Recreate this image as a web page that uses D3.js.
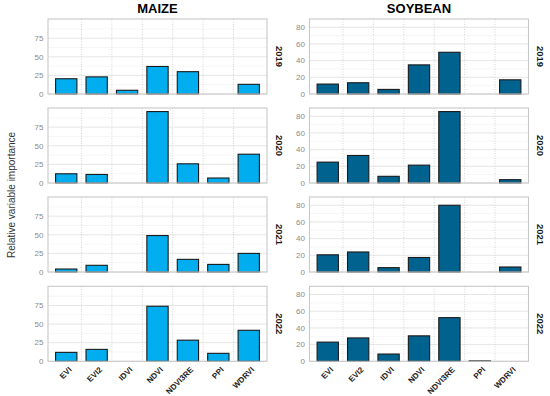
<!DOCTYPE html>
<html><head><meta charset="utf-8">
<script src="https://cdn.jsdelivr.net/npm/d3@7"></script>
<style>body{margin:0;background:#fff}svg{display:block}</style>
</head><body><svg id="c" width="550" height="396"></svg>
<script>
const categories = ["EVI","EVI2","IDVI","NDVI","NDVI3RE","PPI","WDRVI"];
const years = ["2019","2020","2021","2022"];
const crops = ["MAIZE","SOYBEAN"];
const maize2019 = [20.5, 23, 5, 37, 30, 0, 13];
const maize2020 = [12.4, 11.5, 0, 96, 25.8, 6.7, 38.7];
const maize2021 = [4, 9, 0, 49, 17, 10.2, 25];
const maize2022 = [12, 16, 0, 74, 28.4, 10.7, 41.7];
const soy2019 = [11.9, 13.5, 5.5, 34.9, 50, 0, 17];
const soy2020 = [25, 33, 8, 21.4, 85.6, 0, 4];
const soy2021 = [20.6, 24, 5.2, 17.4, 80, 0, 6];
const soy2022 = [23, 28, 8.7, 30.5, 52.3, 0.5, 0];
const maizeTicks = [0, 25, 50, 75];
const soyTicks = [0, 20, 40, 60, 80];
const maizeMinor = [12.5, 37.5, 62.5, 87.5];
const soyMinor = [10, 30, 50, 70];

const series = {MAIZE:[maize2019,maize2020,maize2021,maize2022], SOYBEAN:[soy2019,soy2020,soy2021,soy2022]};
const ticks = {MAIZE:maizeTicks, SOYBEAN:soyTicks};
const minors = {MAIZE:maizeMinor, SOYBEAN:soyMinor};
const fills = {MAIZE:"#00AEEF", SOYBEAN:"#00628F"};

const svg = d3.select("#c");
const panelW = 219, panelH = 75;
const colX = {MAIZE:48, SOYBEAN:309.5};
const rowTop = [19, 108, 197, 286.3];

const x = d3.scaleLinear().domain([0.4, 7.6]).range([0, panelW]);
const barW = x(1.7) - x(1);
const font = "Liberation Sans, Arial, sans-serif";

crops.forEach(crop => {
  const allMax = d3.max(series[crop].flat());
  const y = d3.scaleLinear().domain([0, allMax * 1.05]).range([panelH, 0]);
  const cx = colX[crop];
  svg.append("text").attr("x", cx + panelW/2).attr("y", 12.5)
    .attr("text-anchor","middle").attr("font-family",font)
    .attr("font-weight","bold").attr("font-size", 13).attr("fill","#000").text(crop);
  years.forEach((yr, r) => {
    const g = svg.append("g").attr("transform", `translate(${cx},${rowTop[r]})`);
    g.append("rect").attr("width", panelW).attr("height", panelH).attr("fill","#fff");
    g.selectAll("line.minor").data(minors[crop].filter(v => y(v) > 0)).join("line")
      .attr("x1",0).attr("x2",panelW).attr("y1",d=>y(d)).attr("y2",d=>y(d))
      .attr("stroke","#f0f0f0").attr("stroke-width",0.6);
    g.selectAll("line.major").data(ticks[crop]).join("line")
      .attr("x1",0).attr("x2",panelW).attr("y1",d=>y(d)).attr("y2",d=>y(d))
      .attr("stroke","#e3e3e3").attr("stroke-width",0.9);
    g.selectAll("line.vsep").data(d3.range(1.5, 7, 1)).join("line")
      .attr("x1",d=>x(d)).attr("x2",d=>x(d)).attr("y1",0).attr("y2",panelH)
      .attr("stroke","#c4c4c4").attr("stroke-width",0.7).attr("stroke-dasharray","1,1.5");
    const vals = series[crop][r];
    g.selectAll("rect.bar").data(vals).join("rect")
      .attr("x",(d,i)=>x(i+1) - barW/2).attr("width",barW)
      .attr("y",d=>y(d)).attr("height",d=>panelH - y(d))
      .attr("fill",fills[crop]).attr("stroke","#1a1a1a").attr("stroke-width",1.1);
    g.append("rect").attr("width", panelW).attr("height", panelH)
      .attr("fill","none").attr("stroke","#c8c8c8").attr("stroke-width",1.1);
    g.selectAll("text.yt").data(ticks[crop]).join("text")
      .attr("x",-4.5).attr("y",d=>y(d)).attr("dy","0.35em").attr("text-anchor","end")
      .attr("font-family",font).attr("font-size",8)
      .attr("fill","#8a8a8a").text(d=>d);
    g.append("text").attr("transform",`translate(${panelW + 12},${panelH/2}) rotate(90)`)
      .attr("text-anchor","middle").attr("dy","0.35em")
      .attr("font-family",font).attr("font-weight","bold")
      .attr("font-size",9.5).attr("fill","#1a1a1a").text(yr);
    if (r === years.length - 1) {
      g.selectAll("text.xt").data(categories).join("text")
        .attr("transform",(d,i)=>`translate(${x(i+1)+2},${panelH + 5}) rotate(-45)`)
        .attr("text-anchor","end").attr("dy","0.7em")
        .attr("font-family",font).attr("font-weight","bold")
        .attr("font-size",8).attr("fill","#222").text(d=>d);
    }
  });
});

svg.append("text").attr("transform","translate(11,195) rotate(-90)")
  .attr("text-anchor","middle").attr("dy","0.35em")
  .attr("font-family",font).attr("font-size",10)
  .attr("fill","#333").text("Relative variable importance");
</script></body></html>
